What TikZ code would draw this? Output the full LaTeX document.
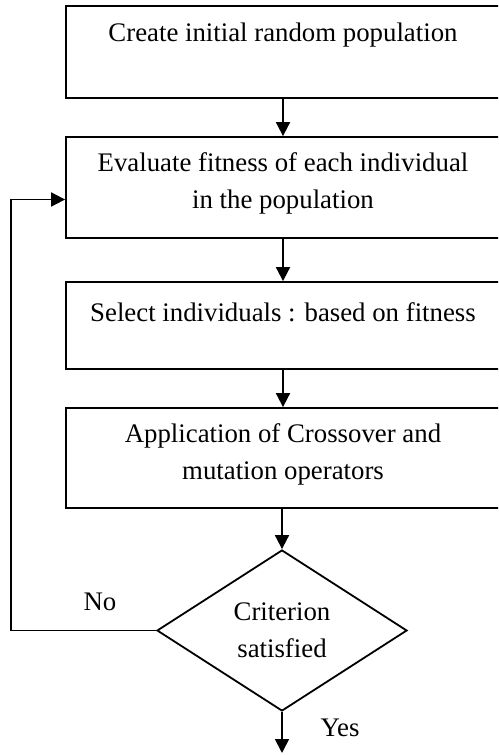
\documentclass[tikz,border=0pt]{standalone}
\usepackage{fontspec}
\setmainfont{Liberation Serif}
\usetikzlibrary{shapes.geometric,arrows.meta}
\begin{document}
\begin{tikzpicture}[x=0.5pt,y=-0.5pt,
  every node/.style={font=\fontsize{13.4}{18.5}\selectfont},
  box/.style={draw, line width=0.9pt, minimum width=217pt, inner sep=0pt},
  txt/.style={align=center, inner sep=0pt},
  arr/.style={-{Triangle[length=7pt,width=7pt]}, line width=0.9pt},
  ln/.style={line width=0.9pt}]
\useasboundingbox (0,0) rectangle (498,755);
\begin{scope}
\clip (0,0) rectangle (498,755);
\node[box, minimum height=46pt] (b1) at (283,52) {};
\node[box, minimum height=50.5pt] (b2) at (283,187.5) {};
\node[box, minimum height=43.5pt] (b3) at (283,325.5) {};
\node[box, minimum height=50pt] (b4) at (283,458) {};
\end{scope}
\node[txt] (t1) at (283,35) {Create initial random population};
\node[txt] (t2) at (283,183) {Evaluate fitness of each individual\\in the population};
\node[txt] (t3) at (283,312) {Select individuals : based on fitness};
\node[txt] (t4) at (283,454) {Application of Crossover and\\mutation operators};
\node[draw, ln, diamond, inner sep=0pt, minimum width=125pt, minimum height=80.5pt, align=center] (d) at (282,630.5) {Criterion\\satisfied};
\node[txt] (no) at (100,602) {No};
\node[txt] (yes) at (340,728) {Yes};
\coordinate (c1) at (11,630.5);
\coordinate (c2) at (11,199.5);
\coordinate (end) at (282,753);
\draw[arr] (b1.south) -- (b2.north);
\draw[arr] (b2.south) -- (b3.north);
\draw[arr] (b3.south) -- (b4.north);
\draw[arr] (282,508) -- (d.north);
\draw[arr] (d.west) -- (c1) -- (c2) -- (c2 -| b2.west);
\draw[arr] (d.south) -- (end);
\end{tikzpicture}
\end{document}
